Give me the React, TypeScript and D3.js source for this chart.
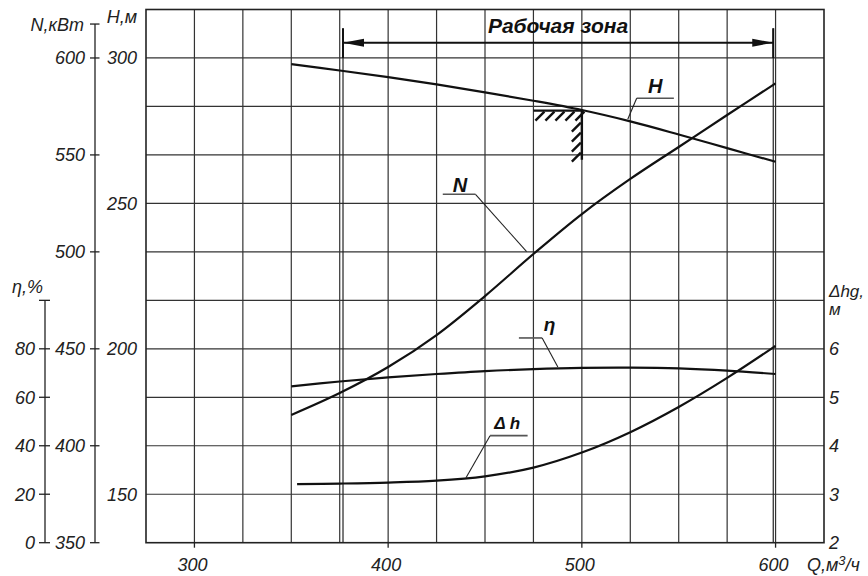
import React, { useRef, useEffect } from 'react';
import * as d3 from 'd3';

// Q, м3/ч
const qValues = [350, 375, 400, 425, 450, 475, 500, 525, 550, 575, 600];
// H, м
const headValues = [297.9, 295.7, 293.4, 290.9, 288.2, 285.3, 282.1, 278.2, 273.7, 269.0, 264.3];
// N, кВт
const powerValues = [415.9, 427.2, 440.6, 457.1, 477.2, 498.9, 519.5, 537.6, 554.1, 570.6, 586.9];
// η, %
const etaValues = [64.5, 66.5, 68.2, 69.6, 70.8, 71.6, 72.1, 72.2, 71.9, 71.0, 69.6];
// Δh, м
const dhQValues = [353, 375, 400, 425, 450, 475, 500, 525, 550, 575, 600];
const dhValues = [3.21, 3.22, 3.24, 3.28, 3.37, 3.55, 3.86, 4.28, 4.8, 5.4, 6.06];

const qTicks = [300, 400, 500, 600];
const nTicks = [350, 400, 450, 500, 550, 600];
const hTicks = [150, 200, 250, 300];
const etaTicks = [0, 20, 40, 60, 80];
const dhTicks = [2, 3, 4, 5, 6];

const workZone = [376.7, 598.8];
const ratedPoint = { q: 500, h: 281.9, hLow: 265 };

const FONT = "'Liberation Sans', Arial, sans-serif";

export default function App() {
    const ref = useRef<SVGSVGElement | null>(null);

    useEffect(() => {
        document.body.style.margin = '0';
        const width = 868;
        const height = 576;
        const frame = { left: 146, top: 9.5, right: 824, bottom: 542.7 };

        const svg = d3
            .select(ref.current)
            .attr('width', width)
            .attr('height', height)
            .attr('viewBox', `0 0 ${width} ${height}`);
        svg.selectAll('*').remove();
        svg.append('rect').attr('width', width).attr('height', height).attr('fill', '#fff');

        const x = d3.scaleLinear().domain([275, 625]).range([frame.left, frame.right]);
        const yN = d3.scaleLinear().domain([350, 625]).range([frame.bottom, frame.top]);
        const yH = d3.scaleLinear().domain([400 / 3, 950 / 3]).range([frame.bottom, frame.top]);
        const yEta = d3.scaleLinear().domain([0, 220]).range([frame.bottom, frame.top]);
        const yDh = d3.scaleLinear().domain([2, 13]).range([frame.bottom, frame.top]);

        const label = (sel: d3.Selection<any, unknown, null, undefined>, size = 18) =>
            sel.style('font', `italic ${size}px ${FONT}`).attr('fill', '#222');

        // grid
        const grid = svg.append('g').attr('stroke', '#333').attr('stroke-width', 1.2);
        d3.range(300, 625, 25).forEach((q) => {
            grid.append('line')
                .attr('x1', x(q)).attr('x2', x(q))
                .attr('y1', frame.top).attr('y2', frame.bottom);
        });
        d3.range(375, 625, 25).forEach((n) => {
            grid.append('line')
                .attr('x1', frame.left).attr('x2', frame.right)
                .attr('y1', yN(n)).attr('y2', yN(n));
        });
        svg.append('rect')
            .attr('x', frame.left).attr('y', frame.top)
            .attr('width', frame.right - frame.left)
            .attr('height', frame.bottom - frame.top)
            .attr('fill', 'none').attr('stroke', '#222').attr('stroke-width', 1.6);

        // bottom ticks and labels
        qTicks.forEach((q) => {
            svg.append('line')
                .attr('x1', x(q)).attr('x2', x(q))
                .attr('y1', frame.bottom).attr('y2', frame.bottom + 5)
                .attr('stroke', '#222').attr('stroke-width', 1.3);
            label(svg.append('text'))
                .attr('x', x(q) - 2).attr('y', 571)
                .attr('text-anchor', 'middle')
                .text(q);
        });
        const qLabel = label(svg.append('text')).attr('x', 807).attr('y', 571);
        qLabel.append('tspan').text('Q,м');
        qLabel.append('tspan').attr('dy', -6).style('font-size', '13px').text('3');
        qLabel.append('tspan').attr('dy', 6).text('/ч');

        // H labels (left of frame)
        hTicks.forEach((h) => {
            label(svg.append('text'))
                .attr('x', 137).attr('y', yH(h)).attr('dy', '0.36em')
                .attr('text-anchor', 'end')
                .text(h);
        });
        label(svg.append('text'))
            .attr('x', 137).attr('y', 23)
            .attr('text-anchor', 'end')
            .text('H,м');

        // N axis
        const nAxisX = 95;
        svg.append('line')
            .attr('x1', nAxisX).attr('x2', nAxisX)
            .attr('y1', yN(617.5)).attr('y2', yN(350))
            .attr('stroke', '#222').attr('stroke-width', 1.3);
        [...nTicks, 617.5].forEach((n) => {
            svg.append('line')
                .attr('x1', nAxisX - 5).attr('x2', nAxisX + 4.5)
                .attr('y1', yN(n)).attr('y2', yN(n))
                .attr('stroke', '#222').attr('stroke-width', 1.3);
        });
        nTicks.forEach((n) => {
            label(svg.append('text'))
                .attr('x', 85).attr('y', yN(n)).attr('dy', '0.36em')
                .attr('text-anchor', 'end')
                .text(n);
        });
        label(svg.append('text'))
            .attr('x', 84).attr('y', yN(617.5)).attr('dy', '0.36em')
            .attr('text-anchor', 'end')
            .text('N,кВт');

        // η axis
        const etaAxisX = 45;
        svg.append('line')
            .attr('x1', etaAxisX).attr('x2', etaAxisX)
            .attr('y1', yEta(100)).attr('y2', yEta(0))
            .attr('stroke', '#222').attr('stroke-width', 1.3);
        [...etaTicks, 100].forEach((e) => {
            svg.append('line')
                .attr('x1', etaAxisX - 6).attr('x2', etaAxisX + 5)
                .attr('y1', yEta(e)).attr('y2', yEta(e))
                .attr('stroke', '#222').attr('stroke-width', 1.3);
        });
        etaTicks.forEach((e) => {
            label(svg.append('text'))
                .attr('x', 35).attr('y', yEta(e)).attr('dy', '0.36em')
                .attr('text-anchor', 'end')
                .text(e);
        });
        label(svg.append('text'))
            .attr('x', 12).attr('y', 293)
            .text('η,%');

        // Δhg axis (right frame)
        dhTicks.forEach((d) => {
            label(svg.append('text'))
                .attr('x', 829).attr('y', yDh(d)).attr('dy', '0.36em')
                .text(d);
        });
        label(svg.append('text'), 17)
            .attr('x', 829).attr('y', 297)
            .text('Δhg,');
        label(svg.append('text'), 17)
            .attr('x', 829).attr('y', 315)
            .text('м');

        // working zone
        const zoneTop = yN(615.3);
        workZone.forEach((q) => {
            svg.append('line')
                .attr('x1', x(q)).attr('x2', x(q))
                .attr('y1', zoneTop).attr('y2', frame.bottom)
                .attr('stroke', '#222').attr('stroke-width', 1.2);
            svg.append('line')
                .attr('x1', x(q)).attr('x2', x(q))
                .attr('y1', zoneTop).attr('y2', yN(600))
                .attr('stroke', '#111').attr('stroke-width', 2);
        });
        const arrowY = yN(607.9);
        const xa = x(workZone[0]);
        const xb = x(workZone[1]);
        svg.append('line')
            .attr('x1', xa).attr('x2', xb)
            .attr('y1', arrowY).attr('y2', arrowY)
            .attr('stroke', '#111').attr('stroke-width', 2);
        svg.append('path')
            .attr('d', `M${xa},${arrowY} L${xa + 21},${arrowY - 4} L${xa + 21},${arrowY + 4} Z`)
            .attr('fill', '#111');
        svg.append('path')
            .attr('d', `M${xb},${arrowY} L${xb - 21},${arrowY - 4} L${xb - 21},${arrowY + 4} Z`)
            .attr('fill', '#111');
        svg.append('text')
            .attr('x', x(487.7)).attr('y', yN(613))
            .attr('text-anchor', 'middle')
            .style('font', `italic bold 21px ${FONT}`)
            .attr('fill', '#111')
            .text('Рабочая зона');

        // curves
        const line = d3
            .line<[number, number]>()
            .x((d) => x(d[0]))
            .curve(d3.curveCatmullRom.alpha(0.5));
        const curves: { pts: [number, number][]; y: d3.ScaleLinear<number, number> }[] = [
            { pts: qValues.map((q, i) => [q, headValues[i]]), y: yH },
            { pts: qValues.map((q, i) => [q, powerValues[i]]), y: yN },
            { pts: qValues.map((q, i) => [q, etaValues[i]]), y: yEta },
            { pts: dhQValues.map((q, i) => [q, dhValues[i]]), y: yDh },
        ];
        curves.forEach((c) => {
            svg.append('path')
                .attr('d', line.y((d) => c.y(d[1]))(c.pts)!)
                .attr('fill', 'none')
                .attr('stroke', '#111')
                .attr('stroke-width', 2.2);
        });

        // rated point hatch
        const hx0 = x(ratedPoint.q - 25);
        const hx1 = x(ratedPoint.q);
        const hy0 = yH(ratedPoint.h);
        const hy1 = yH(ratedPoint.hLow);
        svg.append('path')
            .attr('d', `M${hx0},${hy0} L${hx1},${hy0} L${hx1},${hy1}`)
            .attr('fill', 'none').attr('stroke', '#111').attr('stroke-width', 2.4);
        const hatch = svg.append('g').attr('stroke', '#111').attr('stroke-width', 2.4);
        d3.range(hx0 + 2, hx1 - 4, 10).forEach((px) => {
            hatch.append('line')
                .attr('x1', px).attr('y1', hy0 + 10)
                .attr('x2', px + 9).attr('y2', hy0 + 1);
        });
        d3.range(hy0 + 12, hy1 + 1, 10).forEach((py) => {
            hatch.append('line')
                .attr('x1', hx1 - 10).attr('y1', py + 9)
                .attr('x2', hx1 - 1).attr('y2', py);
        });

        // curve labels with leaders (positions in Q / N coordinates)
        const labels = [
            { text: 'H', size: 20, tq: 534.1, tn: 581.8, u: [528.3, 547.5], un: 579.2, from: 528.3, to: [523.7, 568.4] },
            { text: 'N', size: 20, tq: 433.3, tn: 531.0, u: [428.2, 445.1], un: 529.7, from: 445.1, to: [471.5, 500.1] },
            { text: 'η', size: 19, tq: 480.3, tn: 459.2, u: [467.5, 479.5], un: 455.6, from: 479.5, to: [487.6, 440.6] },
            { text: 'Δ h', size: 17, tq: 454.8, tn: 408.5, u: [452.6, 472.0], un: 405.2, from: 452.6, to: [440.2, 383.5] },
        ];
        labels.forEach((l) => {
            svg.append('text')
                .attr('x', x(l.tq)).attr('y', yN(l.tn))
                .style('font', `italic bold ${l.size}px ${FONT}`)
                .attr('fill', '#111')
                .text(l.text);
            svg.append('line')
                .attr('x1', x(l.u[0])).attr('x2', x(l.u[1]))
                .attr('y1', yN(l.un)).attr('y2', yN(l.un))
                .attr('stroke', '#555').attr('stroke-width', 1.6);
            svg.append('line')
                .attr('x1', x(l.from)).attr('y1', yN(l.un))
                .attr('x2', x(l.to[0])).attr('y2', yN(l.to[1]))
                .attr('stroke', '#222').attr('stroke-width', 1.1);
        });
    }, []);

    return <svg ref={ref} style={{ display: 'block' }}></svg>;
}
